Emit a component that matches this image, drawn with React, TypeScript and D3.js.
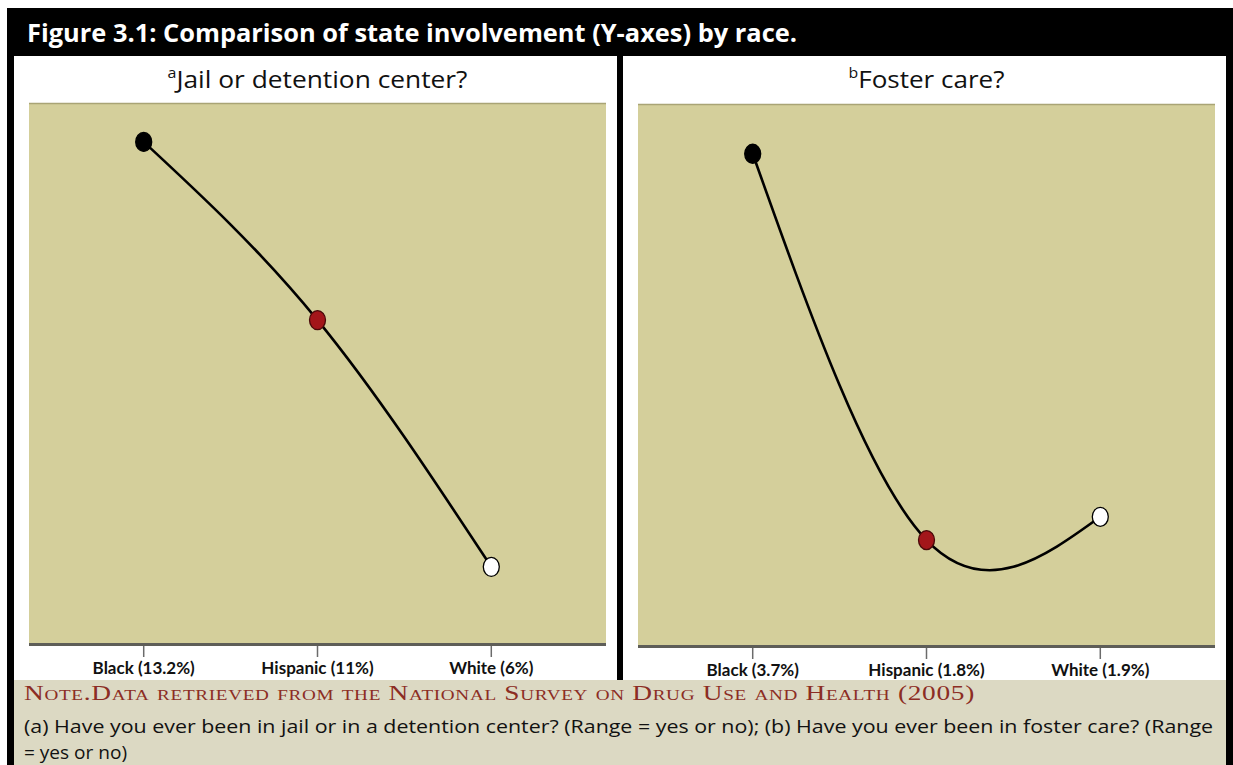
import React from "react";
import * as d3 from "d3";

// categories and values
const jailCategories = ["Black (13.2%)", "Hispanic (11%)", "White (6%)"];
const fosterCategories = ["Black (3.7%)", "Hispanic (1.8%)", "White (1.9%)"];
// relative height of each point in its panel (0 = axis, 100 = top)
const jailLevels = [92.8, 59.8, 14.1];
const fosterLevels = [90.8, 19.4, 23.7];
const markerColors = ["#000000", "#a3161a", "#ffffff"];

const W = 1233;
const H = 765;

interface PanelProps {
  left: number;
  right: number;
  top: number;
  bottom: number;
  title: string;
  sup: string;
  titleLen: number;
  categories: string[];
  levels: number[];
}

const Panel = ({ left, right, top, bottom, title, sup, titleLen, categories, levels }: PanelProps) => {
  const x = d3.scalePoint<string>().domain(categories).range([left, right]).padding(0.66);
  const y = d3.scaleLinear().domain([0, 100]).range([bottom, top]);
  const pts = categories.map((c, i) => ({ c, v: levels[i], color: markerColors[i] }));
  const line = d3
    .line<{ c: string; v: number }>()
    .x((d) => x(d.c) as number)
    .y((d) => y(d.v))
    .curve(d3.curveNatural);
  const cx = (left + right) / 2;

  return (
    <g>
      <text x={cx} y={88} textAnchor="middle" fontFamily="'Open Sans', sans-serif" fontSize={23} fill="#111"
        textLength={titleLen} lengthAdjust="spacingAndGlyphs">
        <tspan fontSize={14} dy={-10}>{sup}</tspan>
        <tspan dy={10}>{title}</tspan>
      </text>
      <rect x={left} y={top} width={right - left} height={bottom - top} fill="#d4cf9b" />
      <line x1={left} x2={right} y1={top + 0.5} y2={top + 0.5} stroke="#a9a475" strokeWidth={1.5} />
      <line x1={left} x2={right} y1={bottom + 1.5} y2={bottom + 1.5} stroke="#5e5e58" strokeWidth={3} />
      {categories.map((c) => (
        <g key={c}>
          <line x1={x(c)} x2={x(c)} y1={bottom + 3} y2={bottom + 14} stroke="#6b6b6b" strokeWidth={1.5} />
          <text x={x(c)} y={bottom + 31} textAnchor="middle" fontFamily="Lato, sans-serif" fontWeight={700}
            fontSize={17} fill="#111">{c}</text>
        </g>
      ))}
      <path d={line(pts) as string} fill="none" stroke="#000" strokeWidth={2.6} />
      {pts.map((p) => (
        <ellipse key={p.c} cx={x(p.c)} cy={y(p.v)} rx={8} ry={9.5} fill={p.color}
          stroke={p.color === "#a3161a" ? "#4a0a0a" : "#000"} strokeWidth={1.3} />
      ))}
    </g>
  );
};

const App = () => {
  return (
    <div style={{ position: "absolute", left: 0, top: 0 }}>
      <svg width={W} height={H} style={{ display: "block", background: "#fff" }}>
        {/* frame */}
        <rect x={7} y={8} width={W - 7} height={H - 8} fill="#000" />
        <rect x={14} y={56} width={603} height={624} fill="#fff" />
        <rect x={623} y={56} width={603} height={624} fill="#fff" />
        <text x={27} y={42} fontFamily="'Open Sans', sans-serif" fontWeight={700} fontSize={25} fill="#fff"
          textLength={770} lengthAdjust="spacingAndGlyphs">
          Figure 3.1: Comparison of state involvement (Y-axes) by race.
        </text>

        <Panel left={29} right={606} top={103} bottom={643} title="Jail or detention center?" sup="a"
          titleLen={300} categories={jailCategories} levels={jailLevels} />
        <Panel left={638} right={1215} top={104} bottom={645} title="Foster care?" sup="b"
          titleLen={156} categories={fosterCategories} levels={fosterLevels} />

        {/* note */}
        <rect x={14} y={680} width={1212} height={85} fill="#dcd9c3" />
        <text x={24} y={700} fontFamily="'Liberation Serif', 'DejaVu Serif', serif" fontSize={20} fill="#8c2d24"
          style={{ fontVariant: "small-caps", letterSpacing: "0.5px" }} textLength={951} lengthAdjust="spacingAndGlyphs">
          Note.Data retrieved from the National Survey on Drug Use and Health (2005)
        </text>
        <text x={24} y={733} fontFamily="'Open Sans', sans-serif" fontSize={18.5} fill="#111"
          textLength={1189} lengthAdjust="spacingAndGlyphs">
          (a) Have you ever been in jail or in a detention center? (Range = yes or no); (b) Have you ever been in foster care? (Range
        </text>
        <text x={24} y={759} fontFamily="'Open Sans', sans-serif" fontSize={18.5} fill="#111"
          textLength={103} lengthAdjust="spacingAndGlyphs">
          = yes or no)
        </text>
      </svg>
    </div>
  );
};

export default App;
